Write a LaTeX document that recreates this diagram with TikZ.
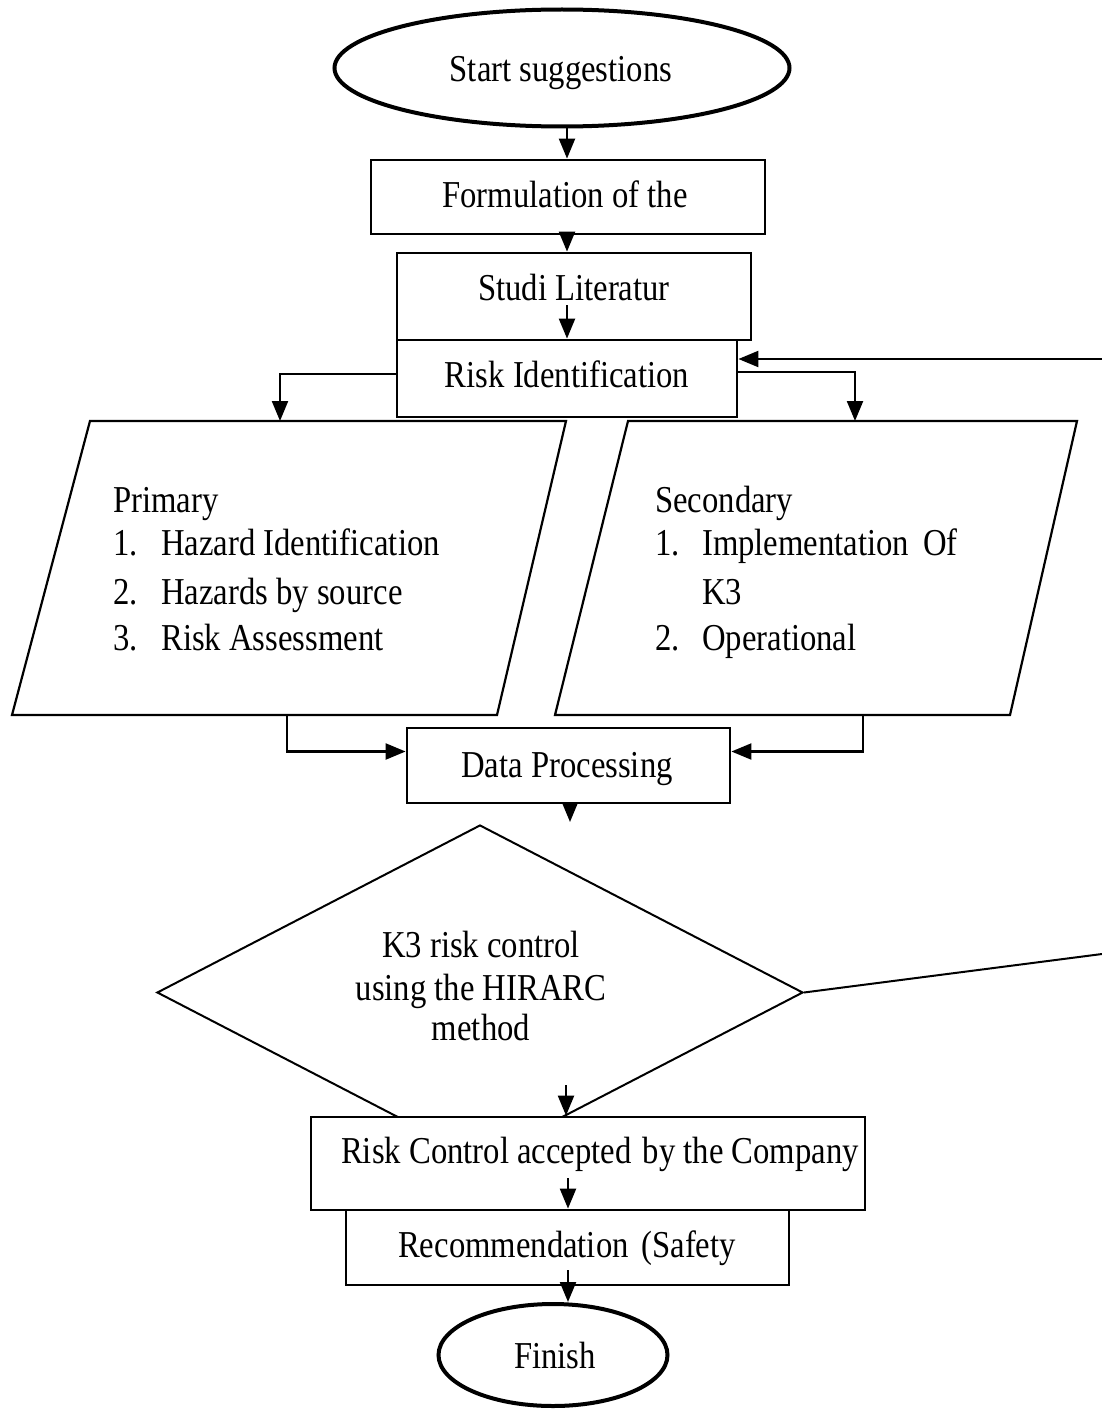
\documentclass[tikz,border=0pt]{standalone}
\usepackage{fontspec}
\setmainfont[FakeStretch=0.86]{Liberation Serif}
\usetikzlibrary{shapes.geometric,arrows.meta}
\begin{document}
\begin{tikzpicture}[x=1pt,y=-1pt,
  txt/.style={font=\fontsize{38}{44}\selectfont, inner sep=0pt, anchor=base},
  ltxt/.style={txt, anchor=base west},
  box/.style={draw, rectangle, line width=2.8pt, inner sep=0pt, fill=white},
  term/.style={draw, ellipse, line width=4pt, inner sep=0pt},
  conn/.style={line width=2.2pt},
  thin/.style={line width=2pt},
  arr/.style={conn, -{Triangle[length=20pt,width=16pt]}}]
\useasboundingbox (0,0) rectangle (1102,1410);

% Start / top boxes
\node[term, minimum width=455pt, minimum height=117pt] (start) at (562,68) {};
\node[txt] (startT) at (561,82) {Start suggestions};
\node[box, minimum width=394pt, minimum height=74pt] (form) at (568,197) {};
\node[txt] (formT) at (565,207) {Formulation of the};
\node[box, minimum width=354pt, minimum height=87pt] (studi) at (574,296.5) {};
\node[txt] (studiT) at (574,300) {Studi Literatur};
\node[box, minimum width=340pt, minimum height=77pt] (risk) at (567,378.5) {};
\node[txt] (riskT) at (567,387) {Risk Identification};

% Parallelograms
\coordinate (p1) at (90,421);  \coordinate (p2) at (566,421);
\coordinate (p3) at (497,715); \coordinate (p4) at (12,715);
\draw[line width=2.2pt, line join=miter] (p1) -- (p2) -- (p3) -- (p4) -- cycle;
\coordinate (s1) at (628,421);  \coordinate (s2) at (1077,421);
\coordinate (s3) at (1010,715); \coordinate (s4) at (555,715);
\draw[line width=2.2pt, line join=miter] (s1) -- (s2) -- (s3) -- (s4) -- cycle;

\node[ltxt] (prim0) at (113,512) {Primary};
\node[ltxt] (prim1n) at (113,555) {1.};
\node[ltxt] (prim1) at (161,555) {Hazard Identification};
\node[ltxt] (prim2n) at (113,604) {2.};
\node[ltxt] (prim2) at (161,604) {Hazards by source};
\node[ltxt] (prim3n) at (113,650) {3.};
\node[ltxt] (prim3) at (161,650) {Risk Assessment};

\node[ltxt] (sec0) at (655,512) {Secondary};
\node[ltxt] (sec1n) at (655,555) {1.};
\node[ltxt] (sec1) at (702,555) {Implementation\hspace{0.15em} Of};
\node[ltxt] (sec1b) at (702,604) {K3};
\node[ltxt] (sec2n) at (655,650) {2.};
\node[ltxt] (sec2) at (702,650) {Operational};

% Data processing
\node[box, minimum width=323pt, minimum height=75pt] (dp) at (568.5,765.5) {};
\node[txt] (dpT) at (567,777) {Data Processing};

% Decision
\node[draw, diamond, thin, minimum width=646pt, minimum height=335pt, inner sep=0pt] (dia) at (480,992.5) {};
\node[txt] (diaT1) at (481,957) {K3 risk control};
\node[txt] (diaT2) at (481,1000) {using the HIRARC};
\node[txt] (diaT3) at (481,1040) {method};

% Bottom boxes
\node[box, minimum width=554pt, minimum height=93pt] (rc) at (588,1163.5) {};
\node[txt] (rcT) at (600,1163) {Risk Control accepted\hspace{0.08em} by the Company};
\node[box, minimum width=443pt, minimum height=75pt] (rec) at (567.5,1247.5) {};
\node[txt] (recT) at (567,1257) {Recommendation\hspace{0.12em} (Safety};
\node[term, minimum width=229pt, minimum height=102pt] (fin) at (553,1355) {};
\node[txt] (finT) at (555,1368) {Finish};

% Connectors
\coordinate (col) at (567,0);
\draw[arr] (start.south -| col) -- (form.north -| col);
\draw[arr] (form.south -| col) -- (studi.north -| col);
\coordinate (studiArr) at (567,305);
\draw[arr] (studiArr) -- (risk.north -| studiArr);

\coordinate (primIn) at (280,421);
\coordinate (secIn) at (855,421);
\draw[arr] ([yshift=4.5pt]risk.west) -| (primIn);
\draw[arr] ([yshift=6.5pt]risk.east) -| (secIn);

\coordinate (fbIn) at (1102,359);
\draw[arr] (fbIn) -- (fbIn -| risk.east);
\coordinate (fbOut) at (1102,954);
\draw[thin] (dia.east) -- (fbOut);

\coordinate (primOut) at (287,715);
\coordinate (secOut) at (863,715);
\draw[arr] (primOut) |- ([yshift=14pt]dp.west);
\draw[arr] (secOut) |- ([yshift=14pt]dp.east);

\coordinate (dpEnd) at (570,822);
\draw[arr] (dp.south -| dpEnd) -- (dpEnd);
\coordinate (diaArr) at (566,1085);
\draw[arr] (diaArr) -- (rc.north -| diaArr);
\coordinate (rcArr) at (568,1178);
\draw[arr] (rcArr) -- (rec.north -| rcArr);
\coordinate (recArr) at (568,1270);
\draw[arr] (recArr) -- (fin.north -| recArr);
\end{tikzpicture}
\end{document}
